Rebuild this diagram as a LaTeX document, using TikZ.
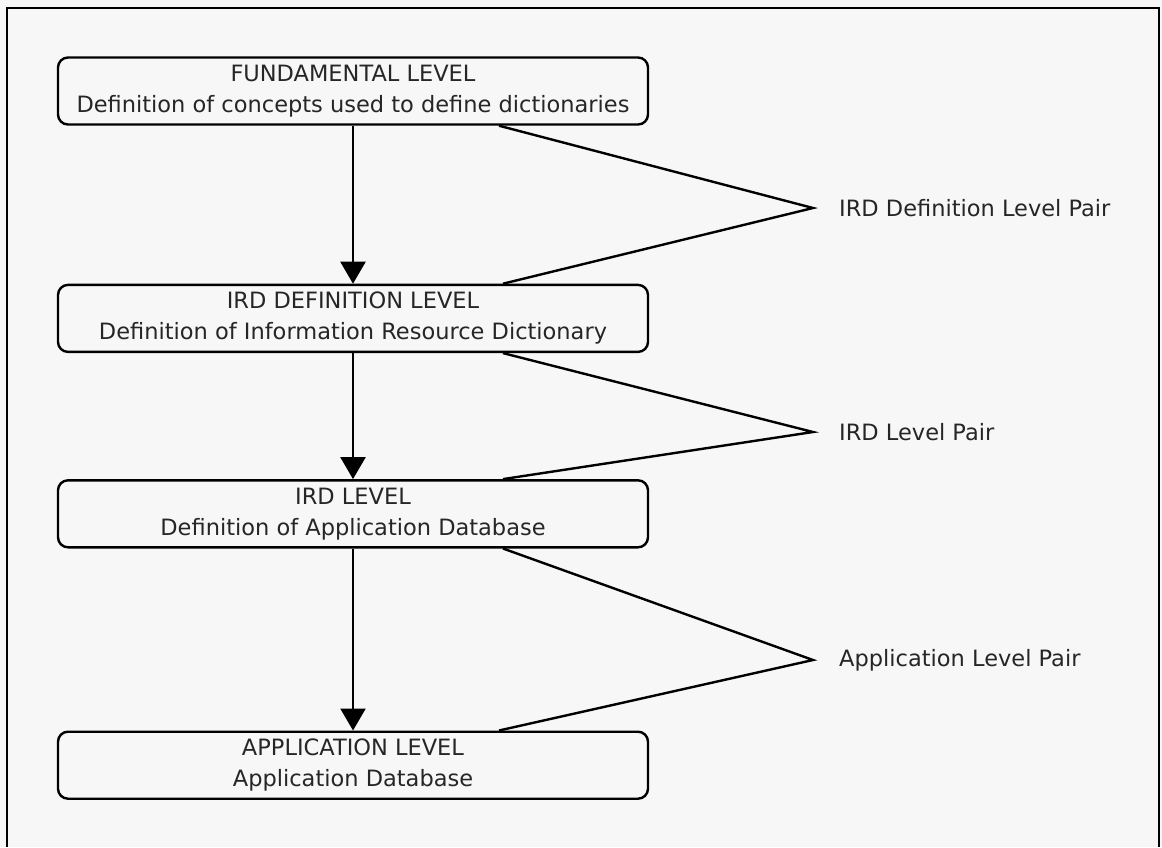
\documentclass[tikz,border=0pt]{standalone}
\usepackage{fontspec}
\setmainfont{DejaVu Sans}
\usetikzlibrary{positioning,arrows.meta,calc}

\begin{document}
\begin{tikzpicture}[x=1pt, y=-1pt,
    every node/.style={font=\fontsize{22.5}{31}\selectfont, text=black!85},
    level/.style={draw, rounded corners=10pt, minimum width=590pt, minimum height=67pt, align=center, line width=2.4pt, inner sep=0pt},
    arrow/.style={-{Triangle[length=22pt,width=25pt]}, line width=2.4pt},
    pair/.style={line width=2.4pt},
    pairlabel/.style={inner sep=0pt, anchor=west},
]
\useasboundingbox[fill=black!3] (0,0) rectangle (1162,847);
\draw[line width=2.4pt] (7,847) -- (7,8) -- (1159,8) -- (1159,847);

\node[level] (fund) at (353,91) {FUNDAMENTAL LEVEL\\Definition of concepts used to define dictionaries};
\node[level, below=158pt of fund] (irddef) {IRD DEFINITION LEVEL\\Definition of Information Resource Dictionary};
\node[level, below=126pt of irddef] (ird) {IRD LEVEL\\Definition of Application Database};
\node[level, below=182pt of ird] (app) {APPLICATION LEVEL\\Application Database};

\draw[arrow] (fund) -- (irddef);
\draw[arrow] (irddef) -- (ird);
\draw[arrow] (ird) -- (app);

% level pairs
\coordinate (apex1) at (813,208);
\coordinate (apex2) at (813,432);
\coordinate (apex3) at (813,660);
\node[pairlabel, right=26pt of apex1] (pair1) {IRD Definition Level Pair};
\node[pairlabel, right=26pt of apex2] (pair2) {IRD Level Pair};
\node[pairlabel, right=26pt of apex3] (pair3) {Application Level Pair};

\draw[pair] ([xshift=146pt]fund.south) -- (apex1) -- ([xshift=150pt]irddef.north);
\draw[pair] ([xshift=150pt]irddef.south) -- (apex2) -- ([xshift=150pt]ird.north);
\draw[pair] ([xshift=150pt]ird.south) -- (apex3) -- ([xshift=146pt]app.north);
\end{tikzpicture}
\end{document}
